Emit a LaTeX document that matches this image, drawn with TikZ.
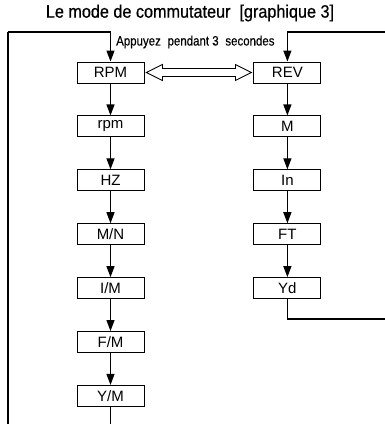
\documentclass[tikz,border=0pt]{standalone}
\usepackage{fontspec}
\setmainfont{Liberation Sans}
\newfontfamily\condfont[FakeStretch=0.9,FakeBold=0.6]{Liberation Sans}
\newfontfamily\notefont[FakeStretch=0.85,FakeBold=0.4]{Liberation Sans}
\usetikzlibrary{positioning,arrows.meta,calc}
\tikzset{
	disp/.style={draw, line width=0.9pt, minimum width=67pt, minimum height=21pt, inner sep=0pt, font=\fontsize{15}{15}\selectfont},
	flow/.style={line width=1.2pt, -{Triangle[length=11pt,width=8pt]}},
	back/.style={line width=1.2pt}
}
\begin{document}
\begin{tikzpicture}[x=1pt,y=1pt,node distance=32pt and 109pt]
	\useasboundingbox (0,0) rectangle (385,424);
	\clip (0,0) rectangle (385,424);
	\node[font=\condfont\fontsize{18}{18}\selectfont] (title) at (190,411) {Le mode de commutateur\enspace[graphique 3]};
	%
	\node[disp] (rpm) at (110.5,351.5) {RPM};
	\node[disp, below=of rpm] (rpmlow) {rpm};
	\node[disp, below=of rpmlow] (hz) {HZ};
	\node[disp, below=of hz] (mn) {M/N};
	\node[disp, below=of mn] (im) {I/M};
	\node[disp, below=of im] (fm) {F/M};
	\node[disp, below=of fm] (ym) {Y/M};
	%
	\node[disp, right=of rpm] (rev) {REV};
	\node[disp, below=of rev] (mm) {M};
	\node[disp, below=of mm] (inch) {In};
	\node[disp, below=of inch] (ft) {FT};
	\node[disp, below=of ft] (yd) {Yd};
	%
	\coordinate (lt) at (8,392);
	\coordinate (lb) at (8,-10);
	\coordinate (rt) at (395,392);
	\coordinate (rb) at (395,105);
	\node[font=\notefont\fontsize{13.5}{13.5}\selectfont, anchor=west, inner sep=0pt] (hold) at (116,382) {Appuyez\enspace pendant 3\enspace secondes};
	%
	\draw[flow] (rpm) -- (rpmlow);
	\draw[flow] (rpmlow) -- (hz);
	\draw[flow] (hz) -- (mn);
	\draw[flow] (mn) -- (im);
	\draw[flow] (im) -- (fm);
	\draw[flow] (fm) -- (ym);
	\draw[flow] (rev) -- (mm);
	\draw[flow] (mm) -- (inch);
	\draw[flow] (inch) -- (ft);
	\draw[flow] (ft) -- (yd);
	%
	\draw[back] (ym.south) -- (ym.south |- lb) -- (lb) -- (lt);
	\draw[flow] (lt) -| (rpm.north);
	\draw[back] (yd.south) -- (yd.south |- rb) -- (rb) -- (rt);
	\draw[flow] (rt) -| (rev.north);
	%
	\draw[line width=0.9pt] ($(rpm.east)+(2,0)$) -- ($(rpm.east)+(18,8)$) -- ($(rpm.east)+(18,4)$)
		-- ($(rev.west)+(-18,4)$) -- ($(rev.west)+(-18,8)$) -- ($(rev.west)+(-2,0)$)
		-- ($(rev.west)+(-18,-8)$) -- ($(rev.west)+(-18,-4)$) -- ($(rpm.east)+(18,-4)$)
		-- ($(rpm.east)+(18,-8)$) -- cycle;
\end{tikzpicture}
\end{document}
